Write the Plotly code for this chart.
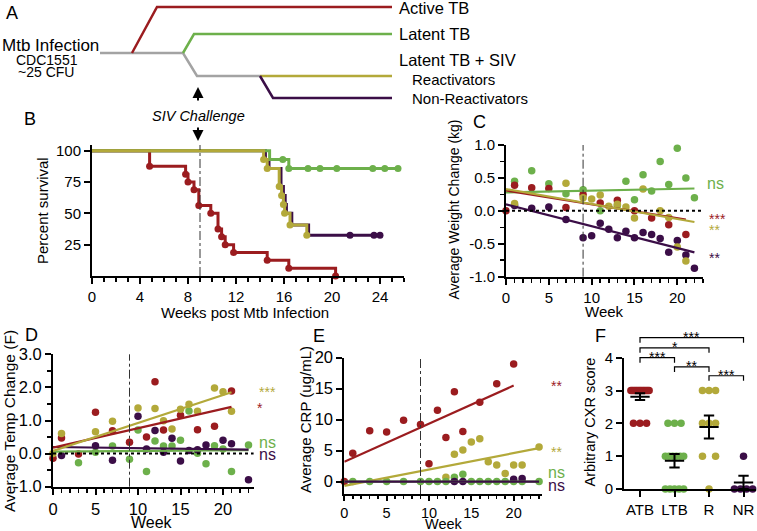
import numpy as np
import plotly.graph_objects as go

W, H = 757, 531
FONT = "Liberation Sans, Arial, Helvetica, sans-serif"
RED = "#9b1c1f"
GREEN = "#6db04b"
YELLOW = "#b3a93a"
PURPLE = "#3b0e47"
GRAY = "#a3a3a3"

# ------------------------------------------------------------------ data
group_names = ["ATB", "LTB", "R", "NR"]

# Panel B: Kaplan-Meier steps (weeks, percent survival)
surv_atb_t = [0, 4.8, 7.8, 8.0, 8.5, 8.9, 9.9, 10.5, 10.8, 11.1, 11.8, 14.6, 16.4, 20.3]
surv_atb_v = [100, 87.5, 81.25, 75, 68.75, 56.25, 50, 37.5, 31.25, 25, 18.75, 12.5, 6.25, 0]
surv_ltb_t = [0, 14.8, 16.4, 25.5]
surv_ltb_v = [100, 92.9, 85.7, 85.7]
mark_ltb_t = [15.9, 16.4, 18.0, 19.0, 20.4, 23.4, 24.4, 25.5]
mark_ltb_v = [92.9, 85.7, 85.7, 85.7, 85.7, 85.7, 85.7, 85.7]
surv_r_t = [0, 14.3, 14.6, 15.6, 15.8, 15.95, 16.05, 16.5, 17.9]
surv_r_v = [100, 92.9, 85.7, 71.4, 64.3, 57.1, 50, 40.7, 32.5]
surv_nr_t = [0, 14.45, 14.75, 15.75, 15.95, 16.1, 16.2, 16.65, 18.05, 24.0]
surv_nr_v = [100, 92.9, 85.7, 71.4, 64.3, 57.1, 50, 40.7, 32.5, 32.5]
mark_nr_t = [21.5, 23.5, 24.0]
mark_nr_v = [32.5, 32.5, 32.5]

# Panel C: average weight change (kg)
wk_atb_c = [0, 1, 3, 5, 7, 9, 11, 13, 15, 17, 19, 21]
wt_atb = [0.0, 0.39, 0.35, 0.34, 0.05, 0.25, 0.12, 0.16, 0.0, -0.11, -0.21, -0.36]
wk_ltb_c = [1, 3, 5, 7, 9, 11, 13, 14, 15, 16, 17, 18, 19, 20, 21, 22]
wt_ltb = [0.45, 0.61, 0.41, 0.26, 0.32, 0.0, 0.08, 0.45, 0.17, 0.55, 0.30, 0.75, 0.40, 0.95, 0.50, 0.20]
wk_r_c = [1, 7, 9, 10, 11, 12, 13, 14, 15, 16, 18, 19, 20, 21]
wt_r = [0.11, 0.42, 0.20, 0.18, 0.24, 0.07, 0.10, 0.06, -0.11, 0.33, 0.0, -0.10, -0.55, -0.76]
wk_nr_c = [1, 3, 5, 7, 9, 10, 11, 12, 13, 14, 15, 16, 17, 18, 19, 20, 21, 22]
wt_nr = [0.08, 0.04, 0.06, -0.13, -0.41, -0.38, -0.19, -0.28, -0.41, -0.31, -0.41, -0.33,
         -0.36, -0.42, -0.63, -0.45, -0.67, -0.87]
# regression [intercept, slope, last week]
fit_c_atb = [0.31, -0.021, 21]
fit_c_ltb = [0.28, 0.0027, 22]
fit_c_r = [0.33, -0.0227, 22]
fit_c_nr = [0.10, -0.0332, 22]
sig_c = ["***", "ns", "**", "**"]

# Panel D: average temperature change (F)
wk_atb_d = [0, 1, 3, 5, 7, 9, 11, 12, 13, 15, 17, 19, 21]
tp_atb = [-0.14, 0.47, -0.01, 1.25, 0.69, 0.34, 0.5, 2.17, 0.71, 1.16, 0.72, 0.83, 1.89]
wk_ltb_d = [3, 5, 7, 9, 10, 11, 12, 13, 14, 15, 16, 17, 18, 19, 20, 21, 23]
tp_ltb = [-0.28, 0.04, 0.23, -0.17, 0.71, -0.54, 0.38, 0.23, 0.23, 0.40, 1.29, 0.01, -0.31,
          0.24, 0.14, -0.54, 0.26]
wk_r_d = [0, 1, 5, 7, 10, 12, 13, 14, 15, 16, 17, 19, 20, 21]
tp_r = [0.0, 0.61, 0.66, 0.98, 1.38, 1.36, 0.99, 0.74, 1.34, 1.49, 1.28, 1.98, 1.87, 1.28]
wk_nr_d = [1, 5, 7, 10, 11, 12, 13, 14, 15, 16, 17, 18, 20, 21, 23]
tp_nr = [-0.06, 0.24, -0.2, 1.13, 0.14, 0.7, 0.04, 0.46, -0.22, 0.09, 0.12, 0.26, 0.4, 0.3, -0.79]
fit_d_atb = [0.18, 0.0586, 21]
fit_d_ltb = [0.06, 0.002, 23]
fit_d_r = [0.08, 0.0845, 21]
fit_d_nr = [0.20, -0.0035, 23]
sig_d = ["*", "ns", "***", "ns"]

# Panel E: average CRP (ug/mL)
wk_atb_e = [0, 1, 3, 5, 7, 9, 10, 11, 12, 13, 14, 16, 18, 20]
crp_atb = [0, 4.57, 8.2, 8.0, 9.9, 9.2, 2.9, 11.5, 7.1, 14.5, 8.1, 12.8, 15.8, 19.0]
wk_ltb_e = [1, 3, 5, 7, 9, 10, 11, 12, 13, 14, 15, 16, 17, 18, 19, 20, 21, 23]
crp_ltb = [0, 0, 0, 0, 0, 0, 0, 0, 0.7, 1.2, 0, 0, 0, 0, 0, 0, 0, 0]
wk_r_e = [12, 13, 14, 15, 16, 17, 18, 19, 20, 21, 23]
crp_r = [0.7, 4.4, 5.1, 6.4, 6.9, 3.2, 2.7, 1.3, 2.7, 2.7, 5.6]
wk_nr_e = [13, 14, 20, 21]
crp_nr = [0, 0, 0.4, 0.5]
fit_e_atb = [3.2, 0.615, 20]
fit_e_ltb = [0.0, 0.0, 23]
fit_e_r = [-0.7, 0.265, 23]
fit_e_nr = [0.0, 0.0, 23]
sig_e = ["**", "ns", "**", "ns"]

# Panel F: arbitrary CXR scores
cxr_atb = [3] * 13 + [2] * 3
cxr_ltb = [2] * 3 + [1] * 6 + [0] * 5
cxr_r = [3] * 3 + [2] * 3 + [1] * 2 + [0]
cxr_nr = [1] + [0] * 4
comparisons = [("ATB", "NR", "***", 4.61), ("ATB", "R", "*", 4.30), ("ATB", "LTB", "***", 4.0),
               ("LTB", "R", "**", 3.72), ("R", "NR", "***", 3.45)]

challenge_week = 9

# ------------------------------------------------------------------ layout helpers
colors = [RED, GREEN, YELLOW, PURPLE]


def X(p):
    return p / W


def Y(p):
    return 1 - p / H


panels = {
    "B": dict(id="", x=(92, 404), xr=(0, 26), y=(145, 276), yr=(0, 104.5)),
    "C": dict(id="2", x=(506, 703), xr=(0, 23), y=(145, 276.7), yr=(-1, 1)),
    "D": dict(id="3", x=(53, 253.6), xr=(0, 23.6), y=(354.3, 486.7), yr=(-1, 3)),
    "E": dict(id="4", x=(344.3, 541.6), xr=(0, 23.3), y=(357.7, 494), yr=(-2, 20)),
    "F": dict(id="5", x=(624, 756), xr=(-0.464, 3.362), y=(357.7, 489), yr=(0, 4)),
}


def xmap(p, v):
    c = panels[p]
    return c["x"][0] + (v - c["xr"][0]) / (c["xr"][1] - c["xr"][0]) * (c["x"][1] - c["x"][0])


def ymap(p, v):
    c = panels[p]
    return c["y"][1] - (v - c["yr"][0]) / (c["yr"][1] - c["yr"][0]) * (c["y"][1] - c["y"][0])


fig = go.Figure()


def ax_names(p):
    i = panels[p]["id"]
    return "x" + i, "y" + i


def add(p, **kw):
    xa, ya = ax_names(p)
    fig.add_trace(go.Scatter(xaxis=xa, yaxis=ya, showlegend=False, cliponaxis=False,
                             hoverinfo="skip", **kw))


# ------------------------------------------------------------------ panel B
add("B", x=surv_atb_t, y=surv_atb_v, mode="lines", line=dict(color=RED, width=3, shape="hv"))
add("B", x=surv_atb_t[1:], y=surv_atb_v[1:], mode="markers", marker=dict(color=RED, size=7))
add("B", x=surv_nr_t, y=surv_nr_v, mode="lines", line=dict(color=PURPLE, width=3, shape="hv"))
add("B", x=mark_nr_t, y=mark_nr_v, mode="markers", marker=dict(color=PURPLE, size=7))
add("B", x=surv_ltb_t, y=surv_ltb_v, mode="lines", line=dict(color=GREEN, width=3, shape="hv"))
add("B", x=mark_ltb_t, y=mark_ltb_v, mode="markers", marker=dict(color=GREEN, size=7))
add("B", x=surv_r_t, y=surv_r_v, mode="lines", line=dict(color=YELLOW, width=3, shape="hv"))
add("B", x=surv_r_t[1:], y=surv_r_v[1:], mode="markers", marker=dict(color=YELLOW, size=7))

# ------------------------------------------------------------------ panels C, D, E


def scatter_panel(p, series, fits, order):
    for k in order:
        wk, val = series[k]
        add(p, x=wk, y=val, mode="markers", marker=dict(color=colors[k], size=7.5))
    for k in order:
        b0, b1, xm = fits[k]
        xs = np.array([0.0, xm])
        add(p, x=xs, y=b0 + b1 * xs, mode="lines", line=dict(color=colors[k], width=2.2))


scatter_panel("C", [(wk_atb_c, wt_atb), (wk_ltb_c, wt_ltb), (wk_r_c, wt_r), (wk_nr_c, wt_nr)],
              [fit_c_atb, fit_c_ltb, fit_c_r, fit_c_nr], [3, 1, 0, 2])
scatter_panel("D", [(wk_atb_d, tp_atb), (wk_ltb_d, tp_ltb), (wk_r_d, tp_r), (wk_nr_d, tp_nr)],
              [fit_d_atb, fit_d_ltb, fit_d_r, fit_d_nr], [1, 3, 0, 2])
scatter_panel("E", [(wk_atb_e, crp_atb), (wk_ltb_e, crp_ltb), (wk_r_e, crp_r), (wk_nr_e, crp_nr)],
              [fit_e_atb, fit_e_ltb, fit_e_r, fit_e_nr], [0, 2, 1, 3])

# ------------------------------------------------------------------ panel F
for gi, vals in enumerate([cxr_atb, cxr_ltb, cxr_r, cxr_nr]):
    xs, ys = [], []
    for lvl in sorted(set(vals), reverse=True):
        n = vals.count(lvl)
        if n == 1:
            offs = [0.0]
        elif n == 2:
            offs = [-0.19, 0.19]
        else:
            s = min(0.19, 0.53 / (n - 1))
            offs = [(i - (n - 1) / 2) * s for i in range(n)]
        xs += [gi + o for o in offs]
        ys += [lvl] * n
    add("F", x=xs, y=ys, mode="markers", marker=dict(color=colors[gi], size=7.5))
    arr = np.array(vals, dtype=float)
    m = arr.mean()
    sem = arr.std(ddof=1) / np.sqrt(len(arr))
    lo, hi = m - sem, m + sem
    add("F", x=[gi - 0.28, gi + 0.28, None, gi - 0.15, gi + 0.15, None, gi - 0.15, gi + 0.15, None, gi, gi],
        y=[m, m, None, hi, hi, None, lo, lo, None, lo, hi],
        mode="lines", line=dict(color="black", width=2))

# ------------------------------------------------------------------ axes
tickfont_small = dict(family=FONT, size=15, color="black")
tickfont_big = dict(family=FONT, size=16.5, color="black")
tickfont_e = dict(family=FONT, size=14.5, color="black")

axis_common = dict(showline=True, linecolor="black", linewidth=2, ticks="outside", tickwidth=2,
                   ticklen=6, tickcolor="black", showgrid=False, zeroline=False, fixedrange=True,
                   automargin=False)


def set_axes(p, xkw, ykw):
    c = panels[p]
    i = c["id"]
    xname = "xaxis" + i
    yname = "yaxis" + i
    xd = dict(axis_common, domain=[X(c["x"][0]), X(c["x"][1])], range=list(c["xr"]),
              anchor="y" + i, **xkw)
    yd = dict(axis_common, domain=[Y(c["y"][1]), Y(c["y"][0])], range=list(c["yr"]),
              anchor="x" + i, **ykw)
    fig.update_layout(**{xname: xd, yname: yd})


minor_x = dict(ticks="outside", ticklen=4, tickwidth=1.5, tickcolor="black", dtick=1, tick0=0, showgrid=False)

set_axes("B", dict(tickmode="linear", tick0=0, dtick=4, tickfont=tickfont_small, minor=minor_x),
         dict(tickmode="array", tickvals=[25, 50, 75, 100], tickfont=tickfont_small))
set_axes("C", dict(tickmode="linear", tick0=0, dtick=5, tickfont=tickfont_small, minor=minor_x),
         dict(tickmode="array", tickvals=[-1, -0.5, 0, 0.5, 1],
              ticktext=["-1.0", "-0.5", "0.0", "0.5", "1.0"], tickfont=tickfont_small,
              minor=dict(ticks="outside", ticklen=4, tickwidth=1.5, tickcolor="black", dtick=0.25,
                         tick0=0, showgrid=False)))
set_axes("D", dict(tickmode="linear", tick0=0, dtick=5, tickfont=tickfont_big, minor=minor_x),
         dict(tickmode="array", tickvals=[-1, 0, 1, 2, 3], ticktext=["-1.0", "0.0", "1.0", "2.0", "3.0"],
              tickfont=tickfont_big,
              minor=dict(ticks="outside", ticklen=4, tickwidth=1.5, tickcolor="black", dtick=0.5,
                         tick0=0, showgrid=False)))
set_axes("E", dict(tickmode="linear", tick0=0, dtick=5, tickfont=tickfont_e, ticklen=4.5,
                   minor=dict(minor_x, ticklen=3)),
         dict(tickmode="array", tickvals=[0, 5, 10, 15, 20], tickfont=tickfont_big))
set_axes("F", dict(tickmode="array", tickvals=[0, 1, 2, 3], ticktext=group_names, tickfont=tickfont_small),
         dict(tickmode="array", tickvals=[0, 1, 2, 3, 4], tickfont=tickfont_small))

# ------------------------------------------------------------------ shapes & annotations
shapes = []
annotations = []


def txt(x, y, s, size=15, color="black", xanchor="center", yanchor="middle", angle=0, italic=False):
    annotations.append(dict(x=X(x), y=Y(y), xref="paper", yref="paper", text=s, showarrow=False,
                            xanchor=xanchor, yanchor=yanchor, textangle=angle,
                            font=dict(family=FONT, size=size, color=color,
                                      style="italic" if italic else "normal")))


def pline(pts, color, width=2.5, dash="solid"):
    path = "M " + " L ".join(f"{X(a):.5f},{Y(b):.5f}" for a, b in pts)
    shapes.append(dict(type="path", path=path, xref="paper", yref="paper",
                       line=dict(color=color, width=width, dash=dash)))


# Panel A schematic
pline([(100, 53), (183, 53), (197, 76), (260, 76)], GRAY)
pline([(132, 53), (157, 7), (392, 7)], RED)
pline([(183, 53), (194, 34), (392, 34)], GREEN)
pline([(260, 76), (392, 76)], YELLOW)
pline([(260, 76), (273, 98), (392, 98)], PURPLE)
txt(50, 45, "Mtb Infection", 17)
txt(46.5, 60.5, "CDC1551", 14)
txt(46, 72.5, "~25 CFU", 14)
txt(397, 8, "Active TB", 16.5, xanchor="left")
txt(397, 34, "Latent TB", 16.5, xanchor="left")
txt(397, 60, "Latent TB + SIV", 16.5, xanchor="left")
txt(410, 79, "Reactivators", 15, xanchor="left")
txt(410, 98.5, "Non-Reactivators", 15, xanchor="left")
txt(198.5, 116.5, "SIV Challenge", 14.5, italic=True)
for head, tail in [((198, 87), 15), ((198, 141), -15)]:
    annotations.append(dict(x=X(head[0]), y=Y(head[1]), xref="paper", yref="paper", text="",
                            showarrow=True, ax=0, ay=tail, arrowhead=2, arrowsize=1.1,
                            arrowwidth=2, arrowcolor="black", standoff=0))

# panel letters
for s, (x, y) in {"A": (11.5, 13), "B": (30, 118.5), "C": (479, 121.5), "D": (31, 335),
                  "E": (319, 336), "F": (600, 336)}.items():
    txt(x, y, s, 18)

# axis titles
txt(43, 211, "Percent survival", 15, angle=-90)
txt(245, 312, "Weeks post Mtb Infection", 15)
txt(453.5, 210, "Average Weight Change (kg)", 14, angle=-90)
txt(604, 311.5, "Week", 15)
txt(9, 421, "Average Temp Change (F)", 15.5, angle=-90)
txt(152, 522, "Week", 16)
txt(305, 420, "Average CRP (ug/mL)", 15, angle=-90)
txt(444, 523.5, "Week", 14.5)
txt(589, 422.5, "Arbitrary CXR score", 14.5, angle=-90)

# SIV challenge vertical dash-dot lines
for p in ["B", "C", "D", "E"]:
    xa, ya = ax_names(p)
    shapes.append(dict(type="line", xref=xa, yref=ya + " domain", x0=challenge_week, x1=challenge_week,
                       y0=0, y1=1, line=dict(color="#333333", width=1, dash="dashdot")))
# zero reference lines (dotted)
for p in ["C", "D"]:
    xa, ya = ax_names(p)
    shapes.append(dict(type="line", xref=xa + " domain", yref=ya, x0=0, x1=1, y0=0, y1=0,
                       line=dict(color="black", width=2, dash="dot")))

# significance labels for C, D, E (order: ATB, LTB, R, NR)
sig_pos = {
    "C": [(717, 219), (715.5, 183), (714, 230), (714, 258)],
    "D": [(260, 408), (267, 442), (267.5, 392), (267, 454)],
    "E": [(556, 386), (556, 472), (556, 451.5), (556, 485.5)],
}
for p, sigs in [("C", sig_c), ("D", sig_d), ("E", sig_e)]:
    for k in range(4):
        x, y = sig_pos[p][k]
        s = sigs[k]
        txt(x, y, s, 16 if s == "ns" else 14, color=colors[k])

# panel F comparison brackets
for a, b, s, lvl in comparisons:
    xa = xmap("F", group_names.index(a))
    xb = xmap("F", group_names.index(b))
    yb = ymap("F", lvl)
    pline([(xa, yb + 5), (xa, yb), (xb, yb), (xb, yb + 5)], "black", width=1.2)
    txt((xa + xb) / 2, yb - 1, s, 14)

fig.update_layout(width=W, height=H, margin=dict(l=0, r=0, t=0, b=0, pad=0, autoexpand=False),
                  paper_bgcolor="white",
                  plot_bgcolor="rgba(0,0,0,0)", shapes=shapes, annotations=annotations,
                  showlegend=False, font=dict(family=FONT, color="black"))

fig.write_html("out.html", config={"displayModeBar": False, "staticPlot": True},
               post_script="document.body.style.margin='0px';document.body.style.overflow='hidden';")
